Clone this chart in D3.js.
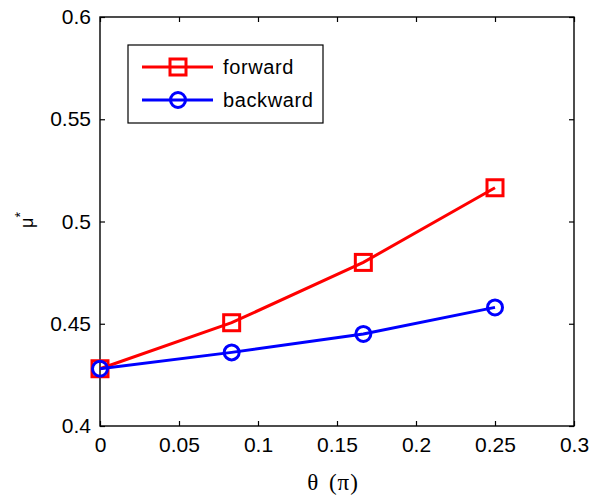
<!DOCTYPE html>
<html><head><meta charset="utf-8">
<script src="https://cdn.jsdelivr.net/npm/d3@7"></script>
<style>body{margin:0;background:#fff}svg{display:block}</style>
</head><body>
<svg id="c" width="595" height="504"></svg>
<script>
const thetaValues = [0, 1/12, 1/6, 0.25];
const forwardValues = [0.428, 0.4505, 0.480, 0.5165];
const backwardValues = [0.428, 0.436, 0.445, 0.458];
const xTicks = [0, 0.05, 0.1, 0.15, 0.2, 0.25, 0.3];
const yTicks = [0.4, 0.45, 0.5, 0.55, 0.6];
const seriesNames = ["forward", "backward"];

const svg = d3.select("#c");
const L = 100, R = 574, T = 17, B = 426;
const x = d3.scaleLinear().domain([0, 0.3]).range([L, R]);
const y = d3.scaleLinear().domain([0.4, 0.6]).range([B, T]);
const font = "'Liberation Sans', Arial, sans-serif";

function styleAxis(g){
  g.select(".domain").remove();
  g.selectAll(".tick line").attr("stroke", "#000").attr("stroke-width", 1.2);
  g.selectAll("text").attr("font-family", font).attr("font-size", 21).attr("fill", "#000");
}
// bottom
svg.append("g").attr("transform", `translate(0,${B})`)
  .call(d3.axisBottom(x).tickValues(xTicks).tickFormat(d3.format("")).tickSizeInner(-5).tickSizeOuter(0).tickPadding(11))
  .call(styleAxis);
// top
svg.append("g").attr("transform", `translate(0,${T})`)
  .call(d3.axisTop(x).tickValues(xTicks).tickFormat("").tickSizeInner(-5).tickSizeOuter(0))
  .call(styleAxis);
// left
svg.append("g").attr("transform", `translate(${L},0)`)
  .call(d3.axisLeft(y).tickValues(yTicks).tickFormat(d3.format("")).tickSizeInner(-5).tickSizeOuter(0).tickPadding(9))
  .call(styleAxis);
// right
svg.append("g").attr("transform", `translate(${R},0)`)
  .call(d3.axisRight(y).tickValues(yTicks).tickFormat("").tickSizeInner(-5).tickSizeOuter(0))
  .call(styleAxis);

svg.append("rect").attr("x", L).attr("y", T).attr("width", R - L).attr("height", B - T)
  .attr("fill", "none").attr("stroke", "#000").attr("stroke-width", 1.4);

const line = d3.line().x((d, i) => x(thetaValues[i])).y(d => y(d));

function drawSeries(vals, color, marker){
  svg.append("path").datum(vals).attr("d", line).attr("fill", "none")
    .attr("stroke", color).attr("stroke-width", 3);
  const g = svg.append("g");
  vals.forEach((v, i) => {
    if (marker === "square") {
      g.append("rect").attr("x", x(thetaValues[i]) - 8).attr("y", y(v) - 8)
        .attr("width", 16).attr("height", 16).attr("fill", "none")
        .attr("stroke", color).attr("stroke-width", 3);
    } else {
      g.append("circle").attr("cx", x(thetaValues[i])).attr("cy", y(v)).attr("r", 7.5)
        .attr("fill", "none").attr("stroke", color).attr("stroke-width", 3);
    }
  });
}
drawSeries(forwardValues, "#ff0000", "square");
drawSeries(backwardValues, "#0000ff", "circle");

// legend
const lg = svg.append("g");
lg.append("rect").attr("x", 128).attr("y", 45).attr("width", 195).attr("height", 78)
  .attr("fill", "#fff").attr("stroke", "#000").attr("stroke-width", 1.2);
const legendItems = [
  {name: seriesNames[0], color: "#ff0000", marker: "square", yy: 67},
  {name: seriesNames[1], color: "#0000ff", marker: "circle", yy: 100}
];
legendItems.forEach(it => {
  lg.append("line").attr("x1", 142).attr("x2", 213).attr("y1", it.yy).attr("y2", it.yy)
    .attr("stroke", it.color).attr("stroke-width", 3);
  if (it.marker === "square") {
    lg.append("rect").attr("x", 178 - 8).attr("y", it.yy - 8).attr("width", 16).attr("height", 16)
      .attr("fill", "none").attr("stroke", it.color).attr("stroke-width", 3);
  } else {
    lg.append("circle").attr("cx", 178).attr("cy", it.yy).attr("r", 7.5)
      .attr("fill", "none").attr("stroke", it.color).attr("stroke-width", 3);
  }
  lg.append("text").attr("x", 223).attr("y", it.yy + 7).attr("font-family", font)
    .attr("font-size", 20).attr("letter-spacing", 0.6).attr("fill", "#000").text(it.name);
});

// axis labels
svg.append("text").attr("x", 333).attr("y", 490).attr("text-anchor", "middle")
  .attr("font-family", "'Liberation Serif', 'Times New Roman', serif").attr("font-size", 23)
  .attr("letter-spacing", 1).attr("word-spacing", 3)
  .text("θ (π)");
const yl = svg.append("text").attr("transform", "translate(33,220) rotate(-90)")
  .attr("text-anchor", "middle").attr("font-family", font).attr("font-size", 18);
yl.append("tspan").text("μ");
yl.append("tspan").attr("baseline-shift", "super").attr("font-size", 14).text("*");
</script>
</body></html>
